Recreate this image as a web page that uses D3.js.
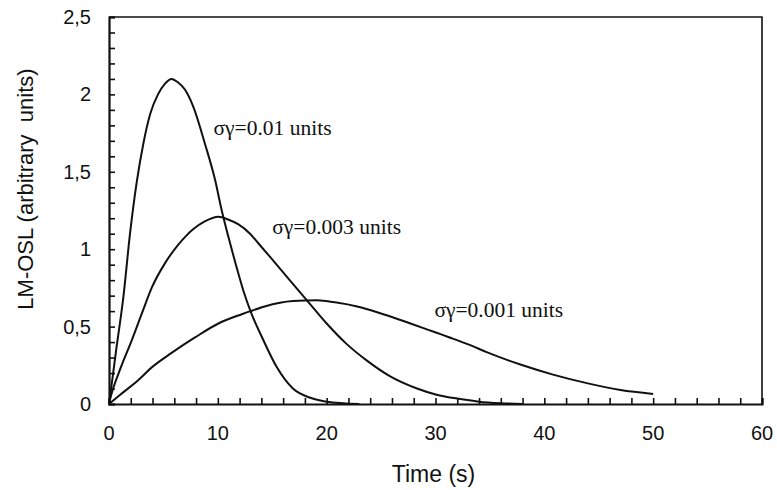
<!DOCTYPE html>
<html>
<head>
<meta charset="utf-8">
<script src="https://cdn.jsdelivr.net/npm/d3@7"></script>
<style>
  body { margin: 0; background: #fff; }
  svg { display: block; }
  .tick-label { font-family: "Liberation Sans", Arial, sans-serif; font-size: 20px; fill: #111; }
  .axis-title { font-family: "Liberation Sans", Arial, sans-serif; font-size: 22px; fill: #111; }
  .note { font-family: "Liberation Serif", "Times New Roman", serif; font-size: 21.5px; fill: #111; }
</style>
</head>
<body>
<div id="chart"></div>
<script>
"use strict";

// sigma-gamma = 0.01 units
var timeA   = [0, 0.1, 0.7, 1.32, 1.93, 2.54, 3.15, 3.77, 4.5, 5.15, 5.75, 6.3, 6.99, 7.75, 8.82, 9.74, 10.36, 10.97, 11.9, 12.4, 13.0, 14.2, 15.4, 16.9, 18.5, 20, 21.5, 23];
var valuesA = [0, 0.05, 0.37, 0.69, 1.10, 1.43, 1.68, 1.87, 2.0, 2.07, 2.10, 2.08, 2.03, 1.92, 1.68, 1.45, 1.25, 1.08, 0.84, 0.72, 0.60, 0.41, 0.24, 0.10, 0.04, 0.015, 0.005, 0];

// sigma-gamma = 0.003 units
var timeB   = [0, 0.1, 1.0, 2.08, 3.15, 3.92, 5.15, 6.37, 7.0, 7.75, 8.8, 10.05, 11.0, 11.9, 12.96, 13.7, 14.8, 16.6, 18.3, 20, 21.8, 23.7, 25.8, 28.3, 30.1, 32, 34, 36, 38];
var valuesB = [0, 0.03, 0.22, 0.41, 0.61, 0.75, 0.91, 1.03, 1.08, 1.13, 1.18, 1.21, 1.19, 1.16, 1.10, 1.04, 0.95, 0.80, 0.66, 0.52, 0.39, 0.28, 0.18, 0.10, 0.06, 0.035, 0.015, 0.005, 0];

// sigma-gamma = 0.001 units
var timeC   = [0, 1, 2.7, 3.9, 5.75, 7.9, 10.05, 12.2, 13, 14.3, 16.9, 19.1, 20.9, 22.8, 25.2, 27.7, 30.1, 31.3, 33.2, 34.7, 37.8, 40.8, 43.9, 47, 50];
var valuesC = [0, 0.058, 0.155, 0.235, 0.33, 0.43, 0.52, 0.58, 0.60, 0.63, 0.665, 0.67, 0.655, 0.63, 0.58, 0.52, 0.46, 0.43, 0.38, 0.335, 0.255, 0.19, 0.135, 0.09, 0.065];

var xTicks = [0, 10, 20, 30, 40, 50, 60];
var yTicks = [0, 0.5, 1, 1.5, 2, 2.5];
var yTickLabels = ["0", "0,5", "1", "1,5", "2", "2,5"];

var notes = [
  { text: "\u03c3\u03b3=0.01 units",  t: 9.6,  v: 1.74 },
  { text: "\u03c3\u03b3=0.003 units", t: 15.0, v: 1.10 },
  { text: "\u03c3\u03b3=0.001 units", t: 29.9, v: 0.56 }
];

var width  = 777;
var height = 490;
var margin = { top: 17, right: 15, bottom: 86, left: 109 };
var innerW = width - margin.left - margin.right;
var innerH = height - margin.top - margin.bottom;

var svg = d3.select("#chart").append("svg")
  .attr("width", width)
  .attr("height", height);

var g = svg.append("g")
  .attr("transform", "translate(" + margin.left + "," + margin.top + ")");

var x = d3.scaleLinear().domain([0, 60]).range([0, innerW]);
var y = d3.scaleLinear().domain([0, 2.5]).range([innerH, 0]);

// frame (top + right)
g.append("path")
  .attr("d", "M0,0H" + innerW + "V" + innerH)
  .attr("fill", "none")
  .attr("stroke", "#111")
  .attr("stroke-width", 1.6);

// bottom axis, ticks every 2 s pointing inward
var xAxis = g.append("g")
  .attr("transform", "translate(0," + innerH + ")")
  .call(d3.axisBottom(x).tickValues(d3.range(0, 61, 2)).tickSize(-6).tickFormat(""));

// left axis, ticks every 0.1 pointing inward
var yAxis = g.append("g")
  .call(d3.axisLeft(y).tickValues(d3.range(0, 26).map(function(i) { return i / 10; })).tickSize(-6).tickFormat(""));

[xAxis, yAxis].forEach(function(ax) {
  ax.select(".domain").attr("stroke", "#111").attr("stroke-width", 2.2);
  ax.selectAll(".tick line").attr("stroke", "#111").attr("stroke-width", 1.6);
});

g.selectAll(".x-label")
  .data(xTicks)
  .enter().append("text")
  .attr("class", "tick-label")
  .attr("x", function(d) { return x(d); })
  .attr("y", innerH + 36)
  .attr("text-anchor", "middle")
  .text(function(d) { return d; });

g.selectAll(".y-label")
  .data(yTicks)
  .enter().append("text")
  .attr("class", "tick-label")
  .attr("x", -18)
  .attr("y", function(d) { return y(d); })
  .attr("dy", "0.35em")
  .attr("text-anchor", "end")
  .text(function(d, i) { return yTickLabels[i]; });

g.append("text")
  .attr("class", "axis-title")
  .style("font-size", "23px")
  .attr("x", innerW / 2 - 2)
  .attr("y", innerH + 78)
  .attr("text-anchor", "middle")
  .text("Time (s)");

svg.append("text")
  .attr("class", "axis-title")
  .attr("transform", "translate(33,189) rotate(-90)")
  .attr("text-anchor", "middle")
  .attr("xml:space", "preserve")
  .style("white-space", "pre")
  .text("LM-OSL (arbitrary  units)");

// curves
var line = d3.line()
  .x(function(d) { return x(d[0]); })
  .y(function(d) { return y(d[1]); })
  .curve(d3.curveMonotoneX);

var series = [d3.zip(timeA, valuesA), d3.zip(timeB, valuesB), d3.zip(timeC, valuesC)];

g.selectAll(".curve")
  .data(series)
  .enter().append("path")
  .attr("class", "curve")
  .attr("d", line)
  .attr("fill", "none")
  .attr("stroke", "#111")
  .attr("stroke-width", 2);

g.selectAll(".note")
  .data(notes)
  .enter().append("text")
  .attr("class", "note")
  .attr("x", function(d) { return x(d.t); })
  .attr("y", function(d) { return y(d.v); })
  .text(function(d) { return d.text; });
</script>
</body>
</html>
